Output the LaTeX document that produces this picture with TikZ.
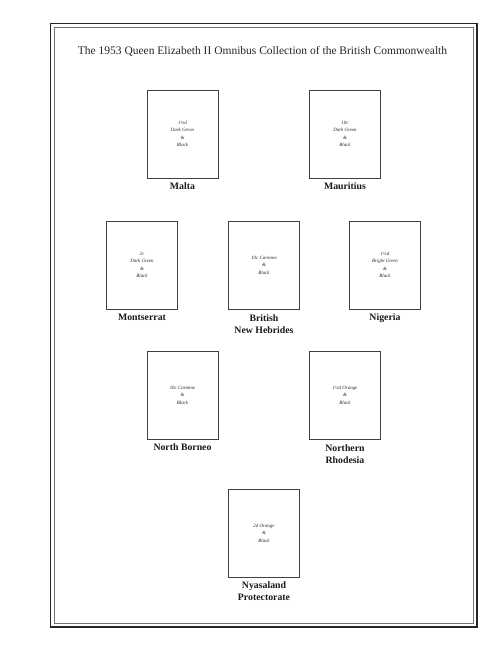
\documentclass[tikz,border=0pt]{standalone}
\usepackage{fontspec}
\setmainfont{Liberation Serif}
\begin{document}
\begin{tikzpicture}[x=1pt,y=-1pt,
  stampbox/.style={draw=black!75,line width=0.9pt,minimum width=71pt,minimum height=88pt,inner sep=0pt},
  stamptext/.style={font=\fontsize{4.9}{7.5}\selectfont\itshape,align=center,text=black!85},
  cname/.style={font=\fontsize{9.8}{12}\selectfont\bfseries,align=center,anchor=north,inner sep=0pt,text=black!90}]
\useasboundingbox (0,0) rectangle (500,647);
\fill[white] (0,0) rectangle (500,647);
% frame
\draw[black!85,line width=1.6pt] (50.5,23.5) rectangle (477,627);
\draw[black!55,line width=0.8pt] (54.5,27.5) rectangle (473,623);
% title
\node[font=\fontsize{11.5}{13}\selectfont,text=black!85] (title) at (262.5,51) {The 1953 Queen Elizabeth II Omnibus Collection of the British Commonwealth};
% row 1
\node[stampbox] (malta) at (182.5,134) {};
\node[stamptext] (maltat) at (malta.center) {1½d\\Dark Green\\\&\\Black};
\node[cname] (maltal) at ([yshift=-4pt]malta.south) {Malta};
\node[stampbox] (maur) at (345,134) {};
\node[stamptext] (maurt) at (maur.center) {10c\\Dark Green\\\&\\Black};
\node[cname] (maurl) at ([yshift=-4pt]maur.south) {Mauritius};
% row 2
\node[stampbox] (mont) at (142,265) {};
\node[stamptext] (montt) at (mont.center) {2c\\Dark Green\\\&\\Black};
\node[cname] (montl) at ([yshift=-4pt]mont.south) {Montserrat};
\node[stampbox] (bnh) at (264,265) {};
\node[stamptext] (bnht) at (bnh.center) {10c Carmine\\\&\\Black};
\node[cname] (bnhl) at ([yshift=-5pt]bnh.south) {British\\New Hebrides};
\node[stampbox] (nig) at (385,265) {};
\node[stamptext] (nigt) at (nig.center) {1½d\\Bright Green\\\&\\Black};
\node[cname] (nigl) at ([yshift=-4pt]nig.south) {Nigeria};
% row 3
\node[stampbox] (nb) at (182.5,395) {};
\node[stamptext] (nbt) at (nb.center) {10c Carmine\\\&\\Black};
\node[cname] (nbl) at ([yshift=-4pt]nb.south) {North Borneo};
\node[stampbox] (nr) at (345,395) {};
\node[stamptext] (nrt) at (nr.center) {1½d Orange\\\&\\Black};
\node[cname] (nrl) at ([yshift=-5pt]nr.south) {Northern\\Rhodesia};
% row 4
\node[stampbox] (nya) at (264,533) {};
\node[stamptext] (nyat) at (nya.center) {2d Orange\\\&\\Black};
\node[cname] (nyal) at ([yshift=-4pt]nya.south) {Nyasaland\\Protectorate};
\end{tikzpicture}
\end{document}
